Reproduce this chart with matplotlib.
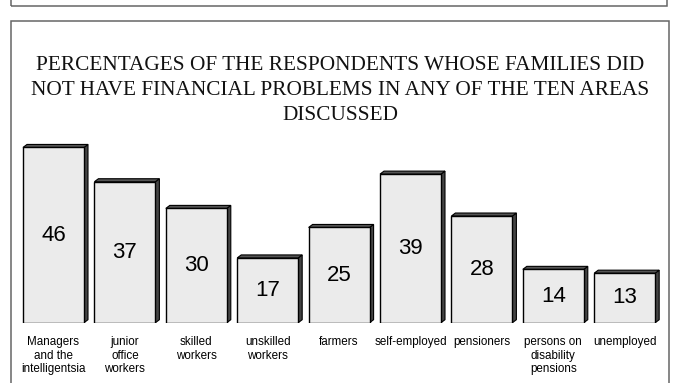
import matplotlib.pyplot as plt
from matplotlib.patches import Polygon, Rectangle

# data
categories = ['Managers\nand the\nintelligentsia', 'junior\noffice\nworkers', 'skilled\nworkers',
              'unskilled\nworkers', 'farmers', 'self-employed', 'pensioners',
              'persons on\ndisability\npensions', 'unemployed']
values = [46, 37, 30, 17, 25, 39, 28, 14, 13]
title = ('PERCENTAGES OF THE RESPONDENTS WHOSE FAMILIES DID\n'
         'NOT HAVE FINANCIAL PROBLEMS IN ANY OF THE TEN AREAS\n'
         'DISCUSSED')

W, H = 675, 383
fig = plt.figure(figsize=(W / 100, H / 100), dpi=100)
fig.patch.set_facecolor('white')


def fx(px):
    return px / W


def fy(py):
    return 1 - py / H


# two framing boxes
fig.add_artist(Rectangle((fx(11), fy(5.7)), fx(656), fy(-10) - fy(5.7) + 0.05,
                         transform=fig.transFigure, fill=False, edgecolor='#666666', lw=1.1))
fig.add_artist(Rectangle((fx(11), fy(395)), fx(658), fy(20.7) - fy(395),
                         transform=fig.transFigure, fill=False, edgecolor='#666666', lw=1.1))

fig.text(fx(340.5), fy(56.5), title, ha='center', va='top', fontsize=15.3,
         family='Liberation Serif', linespacing=1.4, color='#111111')

# axes placed so bars land at the reference pixel positions
step = 71.4
ppu = 3.81
ylim_top = 50
ax = fig.add_axes([fx(53.5 - step / 2), fy(322.7), fx(step * 9), ylim_top * ppu / H])
ax.set_xlim(-0.5, 8.5)
ax.set_ylim(0, ylim_top)
ax.axis('off')

w = 0.854
dx = 4 / step
dy = 3 / ppu
xs = list(range(len(values)))
ax.bar(xs, values, width=w, color='#ebebeb', edgecolor='black', linewidth=1, zorder=3)
for x, v, lab in zip(xs, values, categories):
    r = x + w / 2
    l = x - w / 2
    ax.add_patch(Polygon([(r, 0), (r + dx, dy), (r + dx, v + dy), (r, v)],
                         closed=True, facecolor='#444444', edgecolor='black', lw=0.8, zorder=2))
    ax.add_patch(Polygon([(l, v), (l + dx, v + dy), (r + dx, v + dy), (r, v)],
                         closed=True, facecolor='#555555', edgecolor='black', lw=0.8, zorder=2))
    ax.text(x, v / 2, str(v), ha='center', va='center', fontsize=16,
            family='Liberation Sans', color='black', zorder=4)
    ax.annotate(lab, (x, 0), xytext=(0, -9.5), textcoords='offset points',
                ha='center', va='top', fontsize=8.35, family='Liberation Sans',
                linespacing=1.18, multialignment='center', annotation_clip=False)

fig.savefig('out.png', dpi=100)
